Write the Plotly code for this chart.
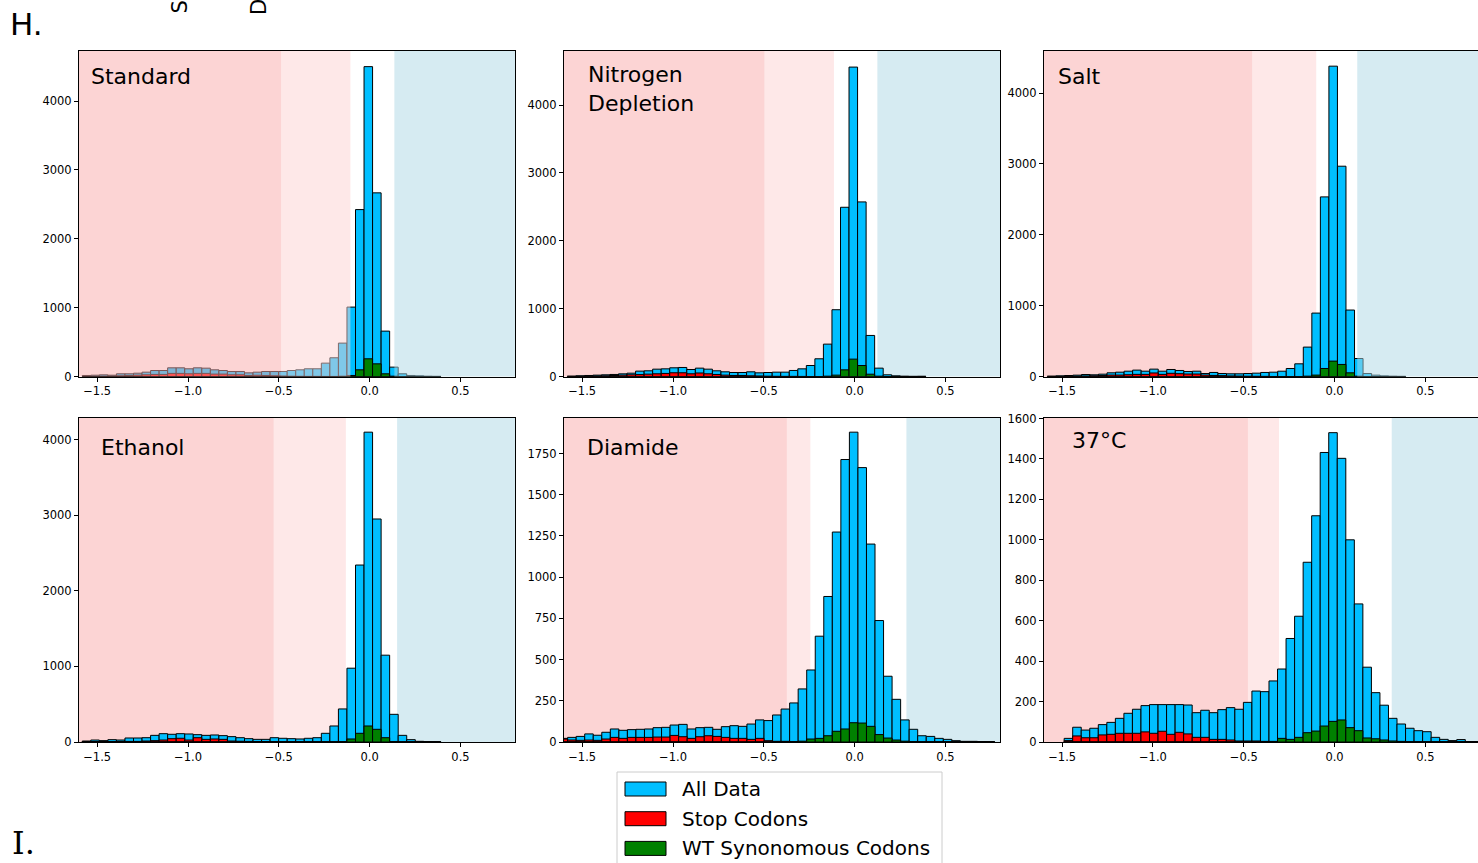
import plotly.graph_objects as go

W, H = 1478, 863

# ---------------- data (histogram counts) ----------------
panel_names = ["Standard", "Nitrogen<br>Depletion", "Salt", "Ethanol", "Diamide", "37°C"]
bin_width = 0.047
bin_start = [-1.582, -1.582, -1.582, -1.582, -1.627, -1.489]

std_all = [15, 19, 24, 19, 39, 39, 48, 63, 87, 87, 126, 126, 112, 126, 121, 97, 87, 73, 73, 53,
           63, 73, 73, 73, 87, 97, 112, 112, 194, 272, 485, 1008, 2424, 4500, 2667, 659, 136, 39, 15, 10, 5, 3]
std_stop = [3, 5, 5, 8, 10, 15, 20, 25, 30, 30, 45, 45, 40, 45, 45, 35, 35, 25, 25, 15,
            18, 15, 10, 8, 5, 3, 2, 2, 1, 1, 0, 0, 0, 0, 0, 0, 0, 0, 0, 0, 0, 0]
std_syn = [0] * 30 + [5, 15, 97, 257, 184, 39, 5] + [0] * 5

nit_all = [5, 10, 15, 20, 25, 30, 39, 49, 79, 84, 108, 113, 128, 133, 103, 123, 108, 84, 69, 59,
           59, 69, 54, 59, 64, 64, 89, 113, 162, 261, 477, 984, 2494, 4560, 2573, 605, 123, 25, 10, 5, 3, 4]
nit_stop = [3, 5, 5, 8, 10, 15, 20, 25, 28, 35, 40, 45, 55, 55, 40, 52, 40, 30, 20, 15,
            15, 10, 8, 5, 3, 2, 2, 1, 0, 0, 0, 0, 0, 0, 0, 0, 0, 0, 0, 0, 0, 0]
nit_syn = [0] * 30 + [5, 20, 98, 256, 162, 34, 5] + [0] * 5

salt_all = [5, 9, 14, 19, 28, 24, 33, 52, 61, 75, 90, 75, 104, 75, 99, 85, 71, 75, 42, 57,
            42, 38, 38, 42, 47, 57, 61, 75, 113, 179, 415, 895, 2535, 4380, 2968, 938, 254, 42, 19, 9, 5, 3]
salt_stop = [2, 3, 4, 5, 8, 10, 15, 20, 20, 25, 30, 30, 50, 30, 45, 40, 35, 35, 20, 15,
             12, 8, 6, 4, 3, 2, 0, 0, 0, 0, 0, 0, 0, 0, 0, 0, 0, 0, 0, 0, 0, 0]
salt_syn = [0] * 30 + [5, 20, 113, 217, 170, 52, 5] + [0] * 5

eth_all = [13, 26, 18, 31, 26, 53, 53, 57, 88, 110, 102, 110, 106, 97, 88, 93, 84, 71, 57, 44,
           35, 35, 57, 49, 44, 40, 49, 57, 115, 212, 437, 976, 2340, 4097, 2949, 1148, 366, 88, 31, 9, 5, 3]
eth_stop = [3, 4, 5, 6, 8, 8, 8, 13, 18, 26, 44, 49, 26, 57, 35, 40, 35, 13, 10, 8,
            6, 5, 4, 3, 2, 0, 0, 0, 0, 0, 0, 0, 0, 0, 0, 0, 0, 0, 0, 0, 0, 0]
eth_syn = [0] * 30 + [5, 40, 115, 212, 168, 57, 5] + [0] * 5

dia_all = [22, 28, 34, 49, 41, 59, 79, 71, 75, 77, 79, 87, 89, 103, 107, 79, 87, 89, 77, 93,
           99, 95, 109, 134, 130, 164, 200, 237, 322, 437, 642, 883, 1274, 1714, 1880, 1665, 1201, 737, 399, 259,
           134, 77, 38, 34, 22, 16, 8, 4, 4, 3, 2]
dia_stop = [18, 12, 10, 12, 10, 18, 28, 22, 28, 28, 28, 30, 30, 40, 32, 22, 32, 38, 34, 28,
            22, 22, 16, 22, 8, 4, 4, 2, 2, 1] + [0] * 21
dia_syn = [0] * 28 + [5, 18, 22, 38, 65, 79, 117, 115, 95, 45, 24, 12, 5, 2] + [0] * 9

hot_all = [18, 73, 59, 68, 86, 97, 117, 142, 162, 180, 185, 185, 185, 185, 183, 145, 157, 145, 160, 170,
           162, 196, 252, 249, 302, 361, 512, 622, 889, 1119, 1432, 1530, 1403, 1000, 683, 370, 244, 182, 117, 89,
           68, 56, 51, 23, 13, 7, 12, 2, 2]
hot_stop = [7, 30, 21, 21, 35, 38, 43, 43, 43, 50, 43, 53, 38, 48, 40, 23, 23, 13, 13, 10,
            5, 5, 5, 3, 3, 2, 2, 1, 1] + [0] * 20
hot_syn = [0] * 24 + [2, 18, 13, 23, 46, 54, 79, 102, 109, 71, 56, 20, 16, 10, 5, 3] + [0] * 9

all_counts = [std_all, nit_all, salt_all, eth_all, dia_all, hot_all]
stop_counts = [std_stop, nit_stop, salt_stop, eth_stop, dia_stop, hot_stop]
syn_counts = [std_syn, nit_syn, salt_syn, eth_syn, dia_syn, hot_syn]

# shaded-region boundaries (strong pink | light pink | white | light blue)
region_bounds = [(-0.488, -0.106, 0.136), (-0.496, -0.114, 0.125), (-0.453, -0.101, 0.125),
                 (-0.528, -0.131, 0.151), (-0.373, -0.244, 0.285), (-0.477, -0.306, 0.315)]
y_max = [4727, 4797, 4594, 4291, 1969, 1605]
y_dtick = [1000, 1000, 1000, 1000, 250, 200]
x_ticks = [-1.5, -1.0, -0.5, 0.0, 0.5]

legend_labels = ["All Data", "Stop Codons", "WT Synonomous Codons"]

# ---------------- styling ----------------
C_ALL, C_STOP, C_SYN = "#00BFFF", "#FF0000", "#008000"
PINK_DARK = "rgba(250,170,170,0.5)"
PINK_LIGHT = "rgba(254,210,210,0.5)"
BLUE_LIGHT = "rgba(173,216,230,0.5)"
FONT = "DejaVu Sans"

col_px = [(79, 515), (564, 1000), (1044, 1478)]
row_px = [(51, 376.5), (417.5, 742)]
x_range = [[-1.6, 0.8], [-1.6, 0.8], [-1.6, 0.79]]
# which regions are drawn above the bars: (dark, light, blue)
above = [(True, True, True), (False, False, False), (False, False, True),
         (False, False, False), (False, False, False), (False, False, False)]
title_pos = [(89, 76), (586, 89), (1056, 77), (99, 448), (585, 448), (1070, 441)]


def px(x):
    return x / W


def py(y):
    return 1 - y / H


fig = go.Figure()
layout = dict(width=W, height=H, margin=dict(l=0, r=0, t=0, b=0, autoexpand=False),
              paper_bgcolor="white", plot_bgcolor="white", barmode="overlay",
              showlegend=False, font=dict(family=FONT, color="black"))
shapes, annotations = [], []

for i in range(6):
    r, c = divmod(i, 3)
    n = "" if i == 0 else str(i + 1)
    xa, ya = "x" + n, "y" + n
    centers = [bin_start[i] + (k + 0.5) * bin_width for k in range(len(all_counts[i]))]
    for vals, col in ((all_counts[i], C_ALL), (stop_counts[i], C_STOP), (syn_counts[i], C_SYN)):
        fig.add_trace(go.Bar(x=centers, y=vals, width=bin_width, xaxis=xa, yaxis=ya,
                             marker=dict(color=col, line=dict(color="black", width=1)),
                             hoverinfo="skip"))
    layout["xaxis" + n] = dict(domain=[px(col_px[c][0]), px(col_px[c][1])], anchor=ya,
                               range=x_range[c], tickvals=x_ticks, tickformat=".1f",
                               showline=True, mirror=True, linecolor="black", linewidth=1,
                               ticks="outside", ticklen=4, tickcolor="black",
                               showgrid=False, zeroline=False, automargin=False,
                               tickfont=dict(size=11.5, family=FONT, color="black"))
    layout["yaxis" + n] = dict(domain=[py(row_px[r][1]), py(row_px[r][0])], anchor=xa,
                               range=[0, y_max[i]], dtick=y_dtick[i], tick0=0, tickformat="d",
                               showline=True, mirror=(c != 2), linecolor="black", linewidth=1,
                               ticks="outside", ticklen=4, tickcolor="black",
                               showgrid=False, zeroline=False, automargin=False,
                               tickfont=dict(size=11.5, family=FONT, color="black"))
    b1, b2, b3 = region_bounds[i]
    lo, hi = x_range[c]
    for (x0, x1, fill), up in zip(((lo, b1, PINK_DARK), (b1, b2, PINK_LIGHT), (b3, hi, BLUE_LIGHT)), above[i]):
        shapes.append(dict(type="rect", xref=xa, yref=ya + " domain", x0=x0, x1=x1, y0=0, y1=1,
                           fillcolor=fill, line=dict(width=0), layer="above" if up else "below"))
    tx, ty = title_pos[i]
    annotations.append(dict(text=panel_names[i], xref="paper", yref="paper", x=px(tx), y=py(ty),
                            xanchor="left", yanchor="middle", showarrow=False, align="left",
                            font=dict(size=22, family=FONT, color="black")))

# manual legend
shapes.append(dict(type="rect", xref="paper", yref="paper", x0=px(617), x1=px(942), y0=py(880), y1=py(772),
                   fillcolor="white", line=dict(color="#CCCCCC", width=1), layer="above"))
for j, (lab, col) in enumerate(zip(legend_labels, (C_ALL, C_STOP, C_SYN))):
    yc = 789 + j * 29.7
    shapes.append(dict(type="rect", xref="paper", yref="paper", x0=px(625), x1=px(666),
                       y0=py(yc + 7), y1=py(yc - 7), fillcolor=col,
                       line=dict(color="black", width=1), layer="above"))
    annotations.append(dict(text=lab, xref="paper", yref="paper", x=px(680), y=py(yc),
                            xanchor="left", yanchor="middle", showarrow=False,
                            font=dict(size=20, family=FONT, color="black")))

# figure letters and cut-off fragments of labels from the panel above
annotations.append(dict(text="H.", xref="paper", yref="paper", x=px(8), y=py(24), xanchor="left",
                        yanchor="middle", showarrow=False, font=dict(size=31, family=FONT, color="black")))
annotations.append(dict(text="I.", xref="paper", yref="paper", x=px(10), y=py(843), xanchor="left",
                        yanchor="middle", showarrow=False, font=dict(size=32, family="DejaVu Serif", color="black")))
for fx, fy, ft in ((180, 16, "S"), (259, 17, "D")):
    annotations.append(dict(text=ft, xref="paper", yref="paper", x=px(fx), y=py(fy), xanchor="center",
                            yanchor="bottom", textangle=-90, showarrow=False,
                            font=dict(size=21, family=FONT, color="black")))

layout["shapes"] = shapes
layout["annotations"] = annotations
fig.update_layout(**layout)
fig.write_html("out.html")
